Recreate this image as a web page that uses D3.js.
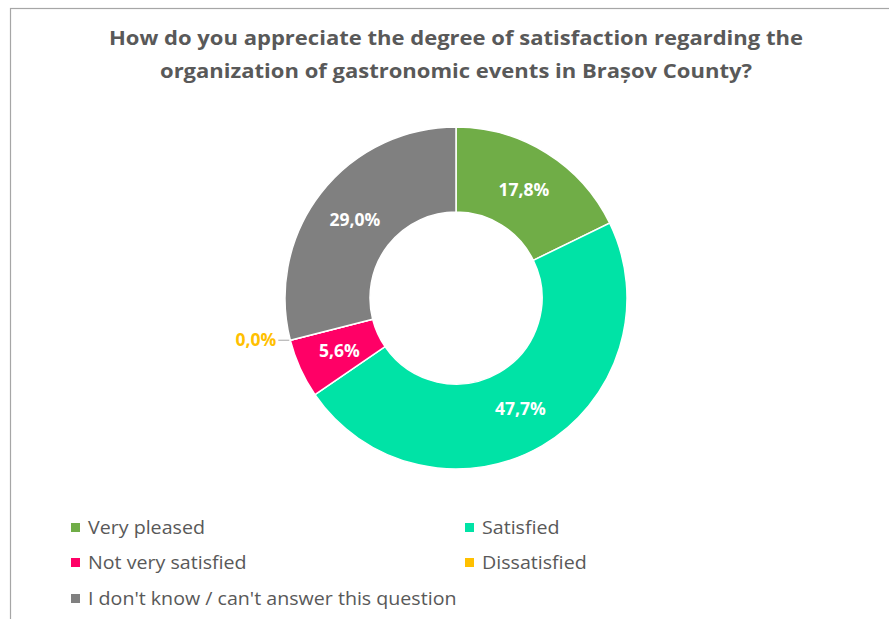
<!DOCTYPE html>
<html>
<head>
<meta charset="utf-8">
<script src="https://cdn.jsdelivr.net/npm/d3@7"></script>
<style>
  body { margin: 0; background: #fff; }
  text { font-family: "Open Sans", "Noto Sans", sans-serif; }
</style>
</head>
<body>
<div id="chart"></div>
<script>
// data
const categories = ["Very pleased", "Satisfied", "Not very satisfied", "Dissatisfied", "I don't know / can't answer this question"];
const values = [17.8, 47.7, 5.6, 0.0, 29.0];
const colors = ["#70AD47", "#00E3A6", "#FF0066", "#FFC000", "#808080"];
const titleLines = ["How do you appreciate the degree of satisfaction regarding the",
                    "organization of gastronomic events in Brașov County?"];

const width = 889, height = 619;
const cx = 456, cy = 298, outerR = 171, innerR = 86;

const svg = d3.select("#chart").append("svg")
    .attr("width", width)
    .attr("height", height);

// chart border
svg.append("rect")
    .attr("x", 10.5).attr("y", 8.5)
    .attr("width", width + 20).attr("height", height + 20)
    .attr("fill", "none")
    .attr("stroke", "#a6a6a6")
    .attr("stroke-width", 1.2);

// title
svg.selectAll(".title")
  .data(titleLines)
  .join("text")
    .attr("class", "title")
    .attr("x", 456)
    .attr("y", (d, i) => 45 + i * 33)
    .attr("text-anchor", "middle")
    .attr("font-size", 19)
    .attr("font-weight", 700)
    .attr("fill", "#595959")
    .attr("textLength", (d, i) => i === 0 ? 694 : 592)
    .attr("lengthAdjust", "spacingAndGlyphs")
    .text(d => d);

const data = categories.map((c, i) => ({name: c, value: values[i], color: colors[i]}));

const pie = d3.pie().sort(null).value(d => d.value);
const arc = d3.arc().innerRadius(innerR).outerRadius(outerR);
const labelArc = d3.arc().innerRadius(128).outerRadius(128);

const g = svg.append("g").attr("transform", `translate(${cx},${cy})`);
const arcs = pie(data);

g.selectAll("path")
  .data(arcs)
  .join("path")
    .attr("d", arc)
    .attr("fill", d => d.data.color)
    .attr("stroke", "#fff")
    .attr("stroke-width", 1.5);

const fmt = v => v.toFixed(1).replace(".", ",") + "%";

// labels inside slices
g.selectAll(".lbl")
  .data(arcs.filter(d => d.data.value > 0))
  .join("text")
    .attr("class", "lbl")
    .attr("transform", d => `translate(${labelArc.centroid(d)})`)
    .attr("text-anchor", "middle")
    .attr("dy", "0.35em")
    .attr("font-size", 17.5)
    .attr("font-weight", 700)
    .attr("fill", "#fff")
    .text(d => fmt(d.data.value));

// zero-value label outside with leader line
arcs.filter(d => d.data.value === 0).forEach(d => {
  const a = d.startAngle;
  const px = Math.sin(a) * outerR, py = -Math.cos(a) * outerR;
  g.append("line")
    .attr("x1", px - 1).attr("y1", py)
    .attr("x2", px - 12).attr("y2", py)
    .attr("stroke", "#a6a6a6").attr("stroke-width", 1);
  g.append("text")
    .attr("x", px - 14).attr("y", py)
    .attr("dy", "0.35em")
    .attr("text-anchor", "end")
    .attr("font-size", 17.5)
    .attr("font-weight", 700)
    .attr("fill", d.data.color)
    .text(fmt(d.data.value));
});

// legend
const legendPos = [[71, 528], [465, 528], [71, 563], [465, 563], [71, 599]];
const legend = svg.selectAll(".leg")
  .data(data)
  .join("g")
    .attr("class", "leg")
    .attr("transform", (d, i) => `translate(${legendPos[i][0]},${legendPos[i][1]})`);

legend.append("rect")
    .attr("x", 0).attr("y", -5)
    .attr("width", 9).attr("height", 9)
    .attr("fill", d => d.color);

legend.append("text")
    .attr("x", 17)
    .attr("dy", "0.35em")
    .attr("font-size", 18)
    .attr("fill", "#595959")
    .text(d => d.name)
    .each(function() {
      // widen slightly to mimic the original font's proportions
      const w = this.getComputedTextLength();
      d3.select(this).attr("textLength", w * 1.09).attr("lengthAdjust", "spacingAndGlyphs");
    });
</script>
</body>
</html>
